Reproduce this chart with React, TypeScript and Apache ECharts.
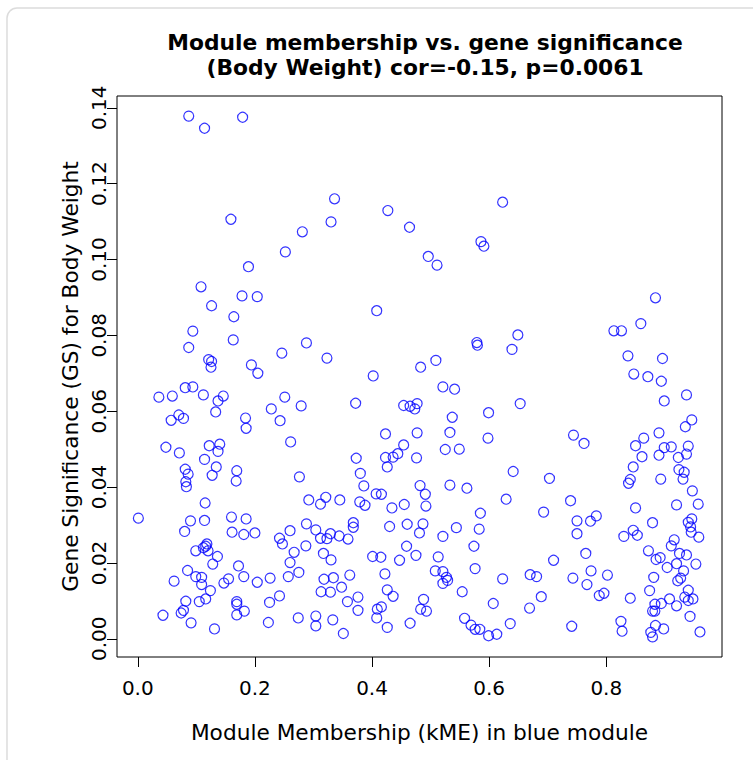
import React, { useEffect, useRef } from 'react';
import * as echarts from 'echarts';

// Module membership (kME) in blue module
const kME: number[] = [
  0.087, 0.114, 0.179, 0.159, 0.281, 0.252, 0.189, 0.108, 0.178, 0.204,
  0.336, 0.330, 0.427, 0.464, 0.496, 0.511, 0.586, 0.591, 0.623, 0.884,
  0.126, 0.164, 0.094, 0.163, 0.087, 0.288, 0.246, 0.121, 0.126, 0.125,
  0.194, 0.205, 0.081, 0.094, 0.036, 0.059, 0.112, 0.146, 0.137, 0.133,
  0.251, 0.279, 0.228, 0.243, 0.070, 0.057, 0.078, 0.184, 0.185, 0.048,
  0.071, 0.122, 0.140, 0.137, 0.261, 0.114, 0.081, 0.086, 0.134, 0.127,
  0.169, 0.168, 0.082, 0.083, 0.276,
  0.408, 0.323, 0.579, 0.580, 0.639, 0.649, 0.509, 0.483, 0.402, 0.521,
  0.541, 0.372, 0.454, 0.465, 0.473, 0.477, 0.653, 0.537, 0.599, 0.423,
  0.477, 0.533, 0.598, 0.454, 0.444, 0.436, 0.423, 0.476, 0.525, 0.549,
  0.373, 0.426, 0.380, 0.641, 0.386, 0.482, 0.533, 0.562,
  0.813, 0.826, 0.859, 0.837, 0.896, 0.847, 0.871, 0.894, 0.937, 0.899,
  0.946, 0.935, 0.890, 0.864, 0.744, 0.762, 0.850, 0.899, 0.911, 0.940,
  0.937, 0.890, 0.861, 0.923, 0.846, 0.924, 0.933, 0.931, 0.893, 0.841,
  0.838, 0.703, 0.947,
  0.001, 0.115, 0.090, 0.114, 0.080, 0.160, 0.185, 0.161, 0.181, 0.200,
  0.118, 0.112, 0.116, 0.120, 0.099, 0.136, 0.128, 0.085, 0.099, 0.109,
  0.109, 0.062, 0.124, 0.172, 0.181, 0.155, 0.147, 0.204, 0.226, 0.082,
  0.105, 0.116, 0.169, 0.169, 0.078, 0.074, 0.043, 0.091, 0.131, 0.169,
  0.182, 0.225, 0.242, 0.223, 0.274, 0.292, 0.312, 0.260, 0.242, 0.247,
  0.288, 0.304, 0.312, 0.287, 0.267, 0.260, 0.275, 0.257, 0.304, 0.304,
  0.321, 0.345, 0.379, 0.388, 0.407, 0.416, 0.434, 0.455, 0.491, 0.492,
  0.629, 0.585, 0.368, 0.368, 0.329, 0.323, 0.344, 0.359, 0.430, 0.460,
  0.487, 0.481, 0.521, 0.544, 0.583, 0.317, 0.330, 0.401, 0.415, 0.447,
  0.459, 0.475, 0.513, 0.574, 0.576, 0.318, 0.334, 0.362, 0.422, 0.508,
  0.521, 0.527, 0.529, 0.521, 0.623, 0.313, 0.329, 0.348, 0.358, 0.376,
  0.376, 0.426, 0.436, 0.409, 0.416, 0.408, 0.426, 0.488, 0.483, 0.493,
  0.465, 0.333, 0.351, 0.554, 0.607, 0.558, 0.569, 0.576, 0.584, 0.599,
  0.613, 0.636,
  0.739, 0.693, 0.750, 0.773, 0.783, 0.750, 0.850, 0.920, 0.957, 0.879,
  0.946, 0.940, 0.944, 0.945, 0.958, 0.846, 0.853, 0.830, 0.916, 0.911,
  0.872, 0.925, 0.937, 0.885, 0.892, 0.920, 0.953, 0.904, 0.932, 0.710,
  0.765, 0.774, 0.802, 0.743, 0.767, 0.670, 0.681, 0.881, 0.927, 0.922,
  0.874, 0.940, 0.788, 0.796, 0.689, 0.841, 0.908, 0.934, 0.948, 0.940,
  0.883, 0.894, 0.920, 0.879, 0.883, 0.669, 0.943, 0.741, 0.825, 0.827,
  0.884, 0.898, 0.876, 0.879, 0.960,
];

// Gene significance (GS) for Body Weight
const GS: number[] = [
  0.1378, 0.1346, 0.1375, 0.1106, 0.1073, 0.1020, 0.0981, 0.0928, 0.0904, 0.0902,
  0.1160, 0.1099, 0.1129, 0.1085, 0.1008, 0.0985, 0.1047, 0.1035, 0.1151, 0.0899,
  0.0878, 0.0849, 0.0811, 0.0788, 0.0768, 0.0780, 0.0753, 0.0736, 0.0731, 0.0716,
  0.0722, 0.0700, 0.0662, 0.0664, 0.0637, 0.0640, 0.0643, 0.0640, 0.0627, 0.0598,
  0.0637, 0.0614, 0.0606, 0.0575, 0.0590, 0.0576, 0.0581, 0.0582, 0.0555, 0.0505,
  0.0490, 0.0509, 0.0513, 0.0494, 0.0519, 0.0473, 0.0447, 0.0434, 0.0453, 0.0431,
  0.0443, 0.0416, 0.0414, 0.0401, 0.0427,
  0.0865, 0.0740, 0.0781, 0.0774, 0.0763, 0.0801, 0.0734, 0.0716, 0.0693, 0.0664,
  0.0658, 0.0621, 0.0615, 0.0613, 0.0606, 0.0620, 0.0620, 0.0584, 0.0596, 0.0540,
  0.0543, 0.0544, 0.0529, 0.0511, 0.0488, 0.0479, 0.0478, 0.0477, 0.0499, 0.0500,
  0.0476, 0.0453, 0.0436, 0.0441, 0.0403, 0.0404, 0.0405, 0.0397,
  0.0812, 0.0812, 0.0831, 0.0746, 0.0739, 0.0698, 0.0691, 0.0679, 0.0643, 0.0627,
  0.0577, 0.0559, 0.0543, 0.0529, 0.0537, 0.0515, 0.0509, 0.0504, 0.0506, 0.0508,
  0.0487, 0.0484, 0.0480, 0.0478, 0.0453, 0.0446, 0.0439, 0.0421, 0.0421, 0.0420,
  0.0410, 0.0423, 0.0390,
  0.0318, 0.0358, 0.0311, 0.0312, 0.0283, 0.0321, 0.0316, 0.0281, 0.0275, 0.0279,
  0.0250, 0.0240, 0.0244, 0.0232, 0.0232, 0.0217, 0.0197, 0.0180, 0.0164, 0.0162,
  0.0143, 0.0152, 0.0127, 0.0192, 0.0164, 0.0158, 0.0147, 0.0149, 0.0160, 0.0099,
  0.0098, 0.0105, 0.0098, 0.0091, 0.0075, 0.0068, 0.0062, 0.0042, 0.0026, 0.0063,
  0.0073, 0.0096, 0.0113, 0.0043, 0.0055, 0.0366, 0.0355, 0.0285, 0.0265, 0.0250,
  0.0303, 0.0287, 0.0265, 0.0245, 0.0228, 0.0201, 0.0175, 0.0164, 0.0060, 0.0034,
  0.0373, 0.0366, 0.0361, 0.0352, 0.0382, 0.0381, 0.0345, 0.0354, 0.0381, 0.0350,
  0.0368, 0.0331, 0.0306, 0.0294, 0.0277, 0.0264, 0.0271, 0.0263, 0.0296, 0.0302,
  0.0303, 0.0279, 0.0270, 0.0293, 0.0289, 0.0225, 0.0208, 0.0217, 0.0215, 0.0207,
  0.0244, 0.0220, 0.0216, 0.0244, 0.0185, 0.0157, 0.0161, 0.0168, 0.0171, 0.0179,
  0.0177, 0.0162, 0.0154, 0.0146, 0.0158, 0.0124, 0.0123, 0.0136, 0.0098, 0.0110,
  0.0075, 0.0129, 0.0112, 0.0078, 0.0084, 0.0055, 0.0030, 0.0104, 0.0078, 0.0073,
  0.0041, 0.0050, 0.0014, 0.0124, 0.0093, 0.0054, 0.0036, 0.0025, 0.0025, 0.0008,
  0.0012, 0.0040,
  0.0364, 0.0334, 0.0311, 0.0310, 0.0324, 0.0277, 0.0345, 0.0353, 0.0355, 0.0306,
  0.0316, 0.0307, 0.0295, 0.0281, 0.0268, 0.0286, 0.0273, 0.0270, 0.0261, 0.0245,
  0.0232, 0.0225, 0.0221, 0.0209, 0.0214, 0.0198, 0.0197, 0.0188, 0.0179, 0.0207,
  0.0225, 0.0179, 0.0168, 0.0160, 0.0143, 0.0169, 0.0164, 0.0162, 0.0160, 0.0153,
  0.0127, 0.0128, 0.0114, 0.0120, 0.0111, 0.0107, 0.0105, 0.0110, 0.0105, 0.0101,
  0.0091, 0.0093, 0.0087, 0.0073, 0.0073, 0.0081, 0.0059, 0.0033, 0.0046, 0.0020,
  0.0035, 0.0026, 0.0017, 0.0005, 0.0018,
];

const xTicks: number[] = [0, 0.2, 0.4, 0.6, 0.8];
const yTicks: number[] = [0, 0.02, 0.04, 0.06, 0.08, 0.1, 0.12, 0.14];

const titleText = 'Module membership vs. gene significance\n(Body Weight) cor=-0.15, p=0.0061';
const xTitle = 'Module Membership (kME) in blue module';
const yTitle = 'Gene Significance (GS) for Body Weight';

export default function App() {
  const ref = useRef<HTMLDivElement>(null);
  useEffect(() => {
    if (!ref.current) return;
    const chart = echarts.init(ref.current, null, { renderer: 'svg' });
    const font = 'DejaVu Sans';
    const points = kME.map((x, i) => [x, GS[i]]);
    chart.setOption({
      animation: false,
      backgroundColor: '#ffffff',
      graphic: [
        {
          type: 'rect',
          shape: { x: 7, y: 8, width: 780, height: 790, r: 10 },
          style: { fill: 'none', stroke: '#dcdcdc', lineWidth: 1.5 },
          silent: true,
        },
      ],
      title: {
        text: titleText,
        left: 420,
        top: 25,
        textAlign: 'center',
        textStyle: {
          fontFamily: font,
          fontWeight: 'bold',
          fontSize: 21.8,
          lineHeight: 25,
          color: '#000',
        },
      },
      grid: {
        left: 117,
        top: 96,
        width: 605,
        height: 561,
        show: true,
        borderColor: '#000',
        borderWidth: 1,
        backgroundColor: 'transparent',
      },
      xAxis: {
        type: 'value',
        min: -0.0355,
        max: 0.9976,
        axisLine: { show: false, onZero: false },
        splitLine: { show: false },
        axisTick: {
          show: true,
          inside: false,
          customValues: xTicks,
          length: 10,
          lineStyle: { color: '#000', width: 1 },
        },
        axisLabel: {
          customValues: xTicks,
          formatter: (v: number) => v.toFixed(1),
          fontFamily: font,
          fontSize: 20,
          color: '#000',
          margin: 21,
        },
        name: xTitle,
        nameLocation: 'middle',
        nameGap: 64,
        nameTextStyle: { fontFamily: font, fontSize: 21.7, color: '#000' },
      },
      yAxis: {
        type: 'value',
        min: -0.0048,
        max: 0.1431,
        axisLine: { show: false, onZero: false },
        splitLine: { show: false },
        axisTick: {
          show: true,
          inside: false,
          customValues: yTicks,
          length: 10,
          lineStyle: { color: '#000', width: 1 },
        },
        axisLabel: {
          customValues: yTicks,
          formatter: (v: number) => v.toFixed(2),
          rotate: 90,
          fontFamily: font,
          fontSize: 20,
          color: '#000',
          margin: 8,
        },
        name: yTitle,
        nameLocation: 'middle',
        nameGap: 30,
        nameTextStyle: { fontFamily: font, fontSize: 21.7, color: '#000' },
      },
      series: [
        {
          type: 'scatter',
          data: points,
          symbol: 'circle',
          symbolSize: 10,
          itemStyle: {
            color: 'rgba(0,0,0,0)',
            borderColor: '#0000ff',
            borderWidth: 1.2,
          },
        },
      ],
    });
    return () => chart.dispose();
  }, []);
  return (
    <div
      ref={ref}
      style={{ position: 'absolute', left: 0, top: 0, width: 753, height: 760 }}
    />
  );
}
